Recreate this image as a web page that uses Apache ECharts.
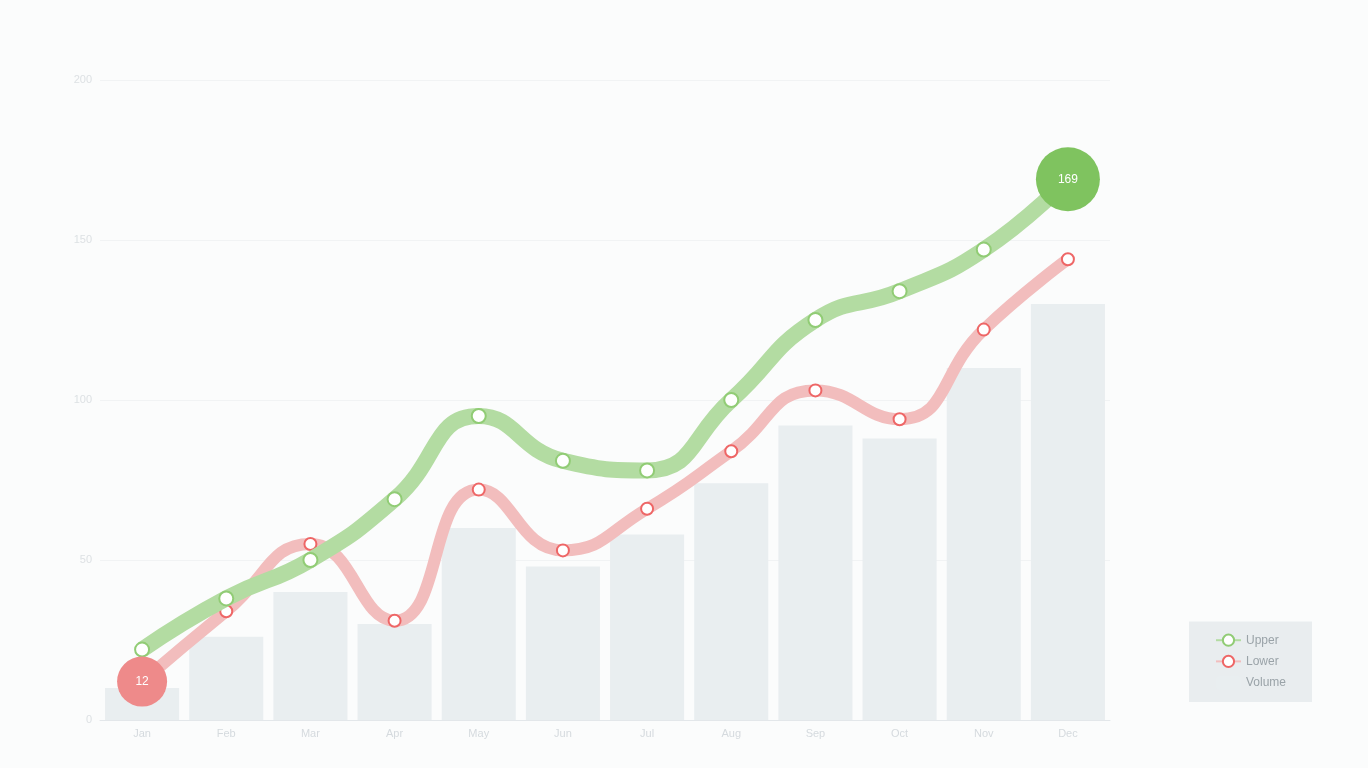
<!DOCTYPE html>
<html>
<head>
<meta charset="utf-8">
<title>Trend</title>
<script src="https://cdn.jsdelivr.net/npm/echarts@6/dist/echarts.min.js"></script>
<style>
    html, body { margin: 0; padding: 0; background: #fbfcfc; }
    #chart { width: 1368px; height: 768px; }
</style>
</head>
<body>
<div id="chart"></div>
<script>
// --- data ---
const months = ['Jan', 'Feb', 'Mar', 'Apr', 'May', 'Jun', 'Jul', 'Aug', 'Sep', 'Oct', 'Nov', 'Dec'];
const upperValues = [22, 38, 50, 69, 95, 81, 78, 100, 125, 134, 147, 169];
const lowerValues = [12, 34, 55, 31, 72, 53, 66, 84, 103, 94, 122, 144];
const volumeValues = [10, 26, 40, 30, 60, 48, 58, 74, 92, 88, 110, 130];

const chart = echarts.init(document.getElementById('chart'));

const option = {
    backgroundColor: '#fbfcfc',
    grid: { left: 100, right: 258, top: 80, bottom: 48 },
    legend: {
        right: 56,
        bottom: 66,
        orient: 'vertical',
        itemGap: 8,
        backgroundColor: '#e9edef',
        padding: [12, 26],
        textStyle: { color: '#9aa3a8', fontSize: 12 },
        data: ['Upper', 'Lower', 'Volume']
    },
    xAxis: {
        type: 'category',
        data: months,
        axisLine: { lineStyle: { color: '#e3e7ea' } },
        axisTick: { show: false },
        axisLabel: { color: '#d5dade', fontSize: 11 }
    },
    yAxis: {
        type: 'value',
        min: 0,
        max: 200,
        interval: 50,
        axisLabel: { color: '#dde1e4', fontSize: 11 },
        splitLine: { lineStyle: { color: '#f1f3f4' } }
    },
    series: [
        {
            name: 'Volume',
            type: 'bar',
            barWidth: '88%',
            data: volumeValues,
            itemStyle: { color: '#e9eef0' },
            z: 1
        },
        {
            name: 'Upper',
            type: 'line',
            smooth: true,
            data: upperValues,
            symbolSize: 14,
            lineStyle: { width: 16, color: '#b3dca2' },
            itemStyle: { color: '#91cc75' },
            markPoint: {
                symbol: 'circle',
                symbolSize: 64,
                itemStyle: { color: '#7fc35f' },
                label: { color: '#fff' },
                data: [{ type: 'max', name: 'Max' }]
            },
            z: 3
        },
        {
            name: 'Lower',
            type: 'line',
            smooth: true,
            data: lowerValues,
            symbolSize: 12,
            lineStyle: { width: 12, color: '#f2bdbd' },
            itemStyle: { color: '#ee6666' },
            markPoint: {
                symbol: 'circle',
                symbolSize: 50,
                itemStyle: { color: '#ee8a8a' },
                label: { color: '#fff' },
                data: [{ type: 'min', name: 'Min' }]
            },
            z: 2
        }
    ]
};

chart.setOption(option);
</script>
</body>
</html>
